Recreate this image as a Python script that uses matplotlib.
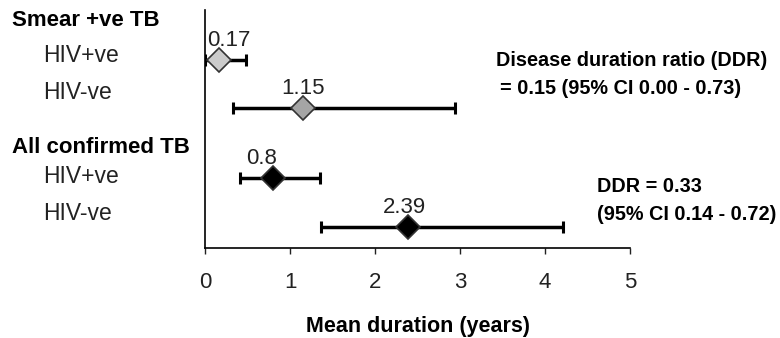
import matplotlib.pyplot as plt
from matplotlib import transforms

plt.rcParams['font.family'] = ['Liberation Sans', 'DejaVu Sans']

groups = ['Smear +ve TB', 'All confirmed TB']
rows = ['HIV+ve', 'HIV-ve', 'HIV+ve', 'HIV-ve']
means = [0.17, 1.15, 0.8, 2.39]
lower = [0.0, 0.33, 0.41, 1.37]
upper = [0.48, 2.94, 1.35, 4.21]
colors = ['#cbcbcb', '#a5a5a5', 'black', 'black']
value_labels = ['0.17', '1.15', '0.8', '2.39']
xticks = [0, 1, 2, 3, 4, 5]

# layout (data units on the y axis)
ypos = [3.87, 2.88, 1.44, 0.43]
row_label_y = [3.97, 3.21, 1.48, 0.70]
group_y = [4.69, 2.06]
label_dx = [7, 0, -8, -3]  # points

fig = plt.figure(figsize=(7.8, 3.38), dpi=100)
ax = fig.add_axes([205 / 780, 90 / 338, 425 / 780, 238 / 338])

for i in range(len(means)):
    ax.errorbar(means[i], ypos[i],
                xerr=[[means[i] - lower[i]], [upper[i] - means[i]]],
                fmt='none', ecolor='black', elinewidth=2.5,
                capsize=4, capthick=2.2, zorder=2)
    ax.plot(means[i], ypos[i], marker='D', markersize=12.5,
            markerfacecolor=colors[i], markeredgecolor='#333333',
            markeredgewidth=1.2, zorder=3)
    ax.annotate(value_labels[i], xy=(means[i], ypos[i]),
                xytext=(label_dx[i], 14), textcoords='offset points',
                ha='center', va='center', fontsize=16, color='#222222')

ax.set_xlim(0, 5)
ax.set_ylim(0, 4.9)
ax.set_xticks(xticks)
ax.set_yticks([])
ax.spines['top'].set_visible(False)
ax.spines['right'].set_visible(False)
ax.spines['left'].set_linewidth(1.2)
ax.spines['bottom'].set_linewidth(1.2)
ax.tick_params(axis='x', direction='out', length=4, width=1,
               labelsize=16, pad=13, colors='#222222')
ax.set_xlabel('Mean duration (years)', fontsize=15.5, fontweight='bold',
              labelpad=17)

trans = transforms.blended_transform_factory(fig.transFigure, ax.transData)
for g, y in zip(groups, group_y):
    ax.text(12 / 780, y, g, transform=trans, fontsize=16,
            fontweight='bold', va='center', ha='left')
for r, y in zip(rows, row_label_y):
    ax.text(43 / 780, y, r, transform=trans, fontsize=16.5,
            va='center', ha='left', color='#222222')

fig.text(496 / 780, 1 - 60 / 338, 'Disease duration ratio (DDR)',
         fontsize=14.3, fontweight='bold', va='center', ha='left')
fig.text(500 / 780, 1 - 89 / 338, '= 0.15 (95% CI 0.00 - 0.73)',
         fontsize=14.3, fontweight='bold', va='center', ha='left')
fig.text(597 / 780, 1 - 186 / 338, 'DDR = 0.33',
         fontsize=14.3, fontweight='bold', va='center', ha='left')
fig.text(597 / 780, 1 - 215 / 338, '(95% CI 0.14 - 0.72)',
         fontsize=14.3, fontweight='bold', va='center', ha='left')

fig.savefig('out.png', dpi=100)
